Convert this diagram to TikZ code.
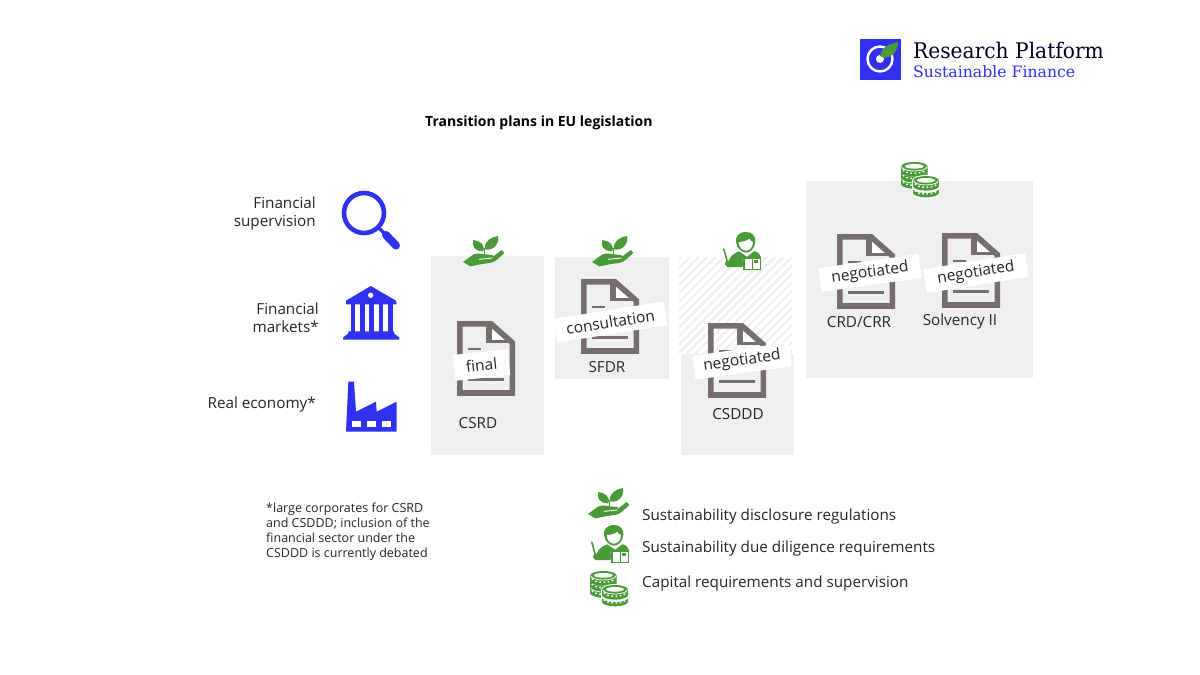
\documentclass[tikz,border=0pt]{standalone}
\usepackage{fontspec}
\setmainfont{Open Sans}
\newfontfamily\logofont{DejaVu Serif}
\definecolor{ublue}{HTML}{3030F0}
\definecolor{ugreen}{HTML}{4B9A3A}
\definecolor{ugrey}{HTML}{756E6D}
\definecolor{ubox}{HTML}{EEF0EF}
\definecolor{uhatch}{HTML}{EFF1F0}
\definecolor{utext}{HTML}{262626}
\tikzset{
  x=1pt,y=-1pt,
  panel/.style={fill=ubox,draw=none},
  lab/.style={text=utext,font=\fontsize{15.25}{18}\selectfont,inner sep=0pt},
  tag/.style={fill=white,text=utext,font=\fontsize{15.5}{18}\selectfont,inner sep=0pt,minimum height=24pt,align=center},
  rlab/.style={lab,anchor=east,align=right},
  doclab/.style={lab,anchor=center},
  leglab/.style={lab,anchor=west},
  doc/.pic={
    \begin{scope}[scale=1/3]
    \fill[white] (105,25) -- (105,58) -- (143,58) -- cycle;
    \fill[ugrey] (88,0) rectangle (105,65);
    \fill[ugrey] (88,58) rectangle (170,65);
    \draw[ugrey,line width=5.6pt,miter limit=4] (8.5,8.5) -- (102,8.5) -- (166,65) -- (166,216) -- (8.5,216) -- cycle;
    \fill[ugrey] (33,80) rectangle (72,87);
    \fill[ugrey] (33,130) rectangle (140,137);
    \fill[ugrey] (33,172) rectangle (140,180);
    \end{scope}
  },
  handicon/.pic={
    \begin{scope}[scale=1/3]
    \fill[ugreen] (0,78) -- (30,56) .. controls (45,48) and (60,56) .. (78,56) .. controls (90,56) and (92,60) .. (90,62) -- (116,42) -- (124,50) .. controls (110,64) and (100,76) .. (85,80) -- (52,85) -- (22,91) -- cycle;
    \draw[white,line width=0.9pt] (48,70) -- (88,66);
    \fill[ugreen] (61,46) .. controls (32,46) and (26,28) .. (31,12) .. controls (50,14) and (68,26) .. (61,46) -- cycle;
    \fill[ugreen] (66,40) .. controls (62,15) and (85,3) .. (105,0) .. controls (110,22) and (92,46) .. (66,40) -- cycle;
    \draw[ugreen,line width=1.5pt] (64,58) -- (64,35);
    \end{scope}
  },
  personicon/.pic={
    \begin{scope}[scale=1/3]
    \fill[ugreen] (15,105) .. controls (20,72) and (38,62) .. (52,58) -- (100,58) .. controls (110,62) and (115,68) .. (118,78) -- (62,78) -- (62,105) -- cycle;
    \fill[white] (50,56) -- (75,74) -- (98,56) -- (90,50) -- (58,50) -- cycle;
    \fill[ugreen] (72,0) .. controls (50,0) and (40,14) .. (42,30) .. controls (44,50) and (60,62) .. (72,62) .. controls (84,62) and (98,50) .. (100,30) .. controls (102,14) and (92,0) .. (72,0) -- cycle;
    \fill[white] (50,30) .. controls (64,30) and (76,26) .. (82,20) .. controls (84,26) and (88,28) .. (93,30) .. controls (93,44) and (84,56) .. (72,56) .. controls (60,56) and (50,44) .. (50,30) -- cycle;
    \draw[ugreen,line width=1.6pt] (5,50) -- (17,93);
    \fill[ugreen] (17,95) circle[radius=8];
    \fill[ugreen] (17,88) rectangle (62,100);
    \draw[ugreen,line width=1.5pt,fill=white] (66,78) rectangle (116,112);
    \draw[ugreen,line width=1.2pt] (91,78) -- (91,112);
    \fill[ugreen] (97,85) rectangle (108,92);
    \end{scope}
  },
  coinicon/.pic={
    \begin{scope}[scale=1/3]
    \foreach \cy in {50,30,14}{
      \fill[ugreen] (0,\cy) arc[start angle=180,end angle=360,x radius=40,y radius=14] -- ++(0,16) arc[start angle=0,end angle=180,x radius=40,y radius=14] -- cycle;
      \draw[white,line width=0.8pt] (2,\cy) arc[start angle=180,end angle=0,x radius=38,y radius=13];
      \draw[white,line width=1.5pt,dash pattern=on 1.6pt off 2.6pt] (6,\cy+9) arc[start angle=175,end angle=5,x radius=34,y radius=12];
    }
    \fill[white] (40,13) ellipse[x radius=28,y radius=7];
    \foreach \cy in {76,56}{
      \fill[white] (33,\cy) arc[start angle=180,end angle=360,x radius=42,y radius=17] -- ++(0,20) arc[start angle=0,end angle=180,x radius=42,y radius=17] -- cycle;
      \fill[ugreen] (36,\cy) arc[start angle=180,end angle=360,x radius=39,y radius=14] -- ++(0,16) arc[start angle=0,end angle=180,x radius=39,y radius=14] -- cycle;
      \draw[white,line width=0.8pt] (38,\cy) arc[start angle=180,end angle=0,x radius=37,y radius=13];
      \draw[white,line width=1.5pt,dash pattern=on 1.6pt off 2.6pt] (42,\cy+9) arc[start angle=175,end angle=5,x radius=33,y radius=12];
    }
    \fill[white] (75,55) ellipse[x radius=27,y radius=7];
    \end{scope}
  }
}
\begin{document}
\begin{tikzpicture}
\useasboundingbox (0,0) rectangle (1200,675);
\fill[white] (0,0) rectangle (1200,675);

% logo
\fill[ublue] (860,39) rectangle (901,80);
\draw[white,line width=2.4pt] (880,59) circle[radius=12.5];
\fill[white] (880,59) circle[radius=4];
\fill[ugreen] (880,56) .. controls (882,46) and (890,44) .. (898,42) .. controls (898,50) and (894,57) .. (884,58) -- cycle;
\node[anchor=west,inner sep=0pt,text=black!85!blue,xscale=0.94,transform shape] (logoA) at (913,50) {\logofont\fontsize{21.5}{24}\selectfont Research Platform};
\node[anchor=west,inner sep=0pt,text=ublue] (logoB) at (913,71.5) {\logofont\fontsize{15.7}{18}\selectfont Sustainable Finance};

\node[anchor=west,inner sep=0pt,text=black] (title) at (425,123) {\fontsize{14}{18}\selectfont\bfseries Transition plans in EU legislation};

% left column
\node[rlab] (sup) at (316,214) {Financial\\supervision};
\node[rlab] (mkt) at (319,318) {Financial\\markets*};
\node[rlab] (real) at (316,404.5) {Real economy*};

% magnifier
\draw[ublue,line width=4.6pt] (364,213) circle[radius=20];
\draw[ublue,line width=3.5pt] (379,228) -- (388,237);
\draw[ublue,line width=8pt,line cap=round] (386,235) -- (396,245.5);

% bank
\begin{scope}[shift={(320,170)},scale=1/3]
\fill[ublue] (152,348) -- (228,392) -- (230,403) -- (78,403) -- (78,392) -- cycle;
\fill[white] (152,376) circle[radius=8];
\foreach \cx in {92,120,148,176,204}{\fill[ublue] (\cx,403) rectangle (\cx+14,487);}
\fill[ublue] (85,484) -- (222,484) -- (222,490) -- (238,503) -- (238,509) -- (69,509) -- (69,503) -- (85,490) -- cycle;
% factory
\fill[ublue] (85,635) -- (102,635) -- (108,725) -- (168,695) -- (170,725) -- (230,695) -- (230,785) -- (78,785) -- cycle;
\fill[white] (95,752) rectangle (122,770);
\fill[white] (140,752) rectangle (167,770);
\fill[white] (185,752) rectangle (212,770);
\end{scope}

% panels
\fill[panel] (430.5,256) rectangle (544,454.5);
\fill[panel] (555,257) rectangle (669,379);
\fill[panel] (681,354) rectangle (794,455);
\fill[panel] (806,181) rectangle (1033,378);
\begin{scope}
\clip (679,257) rectangle (792,354);
\foreach \k in {0,...,45}{
  \draw[uhatch,line width=2.4pt] (570+\k*8.5,360) -- (570+\k*8.5+110,250);
}
\end{scope}

% documents
\pic at (457,321) {doc};
\pic at (581,279) {doc};
\pic at (708,323) {doc};
\pic at (837,234) {doc};
\pic at (942,233) {doc};

% status tags
\node[tag,rotate=6,minimum width=55pt,minimum height=26pt] (tfinal) at (481.5,365) {final};
\node[tag,rotate=9,minimum width=111pt] (tcons) at (610.5,322) {consultation};
\node[tag,rotate=8,minimum width=97pt] (tneg1) at (742,361) {negotiated};
\node[tag,rotate=8,minimum width=101pt] (tneg2) at (870,273) {negotiated};
\node[tag,rotate=9,minimum width=103pt] (tneg3) at (976,273) {negotiated};

% document names
\node[doclab] (csrd) at (478,423) {CSRD};
\node[doclab] (sfdr) at (607,367.5) {SFDR};
\node[doclab] (csddd) at (738,414) {CSDDD};
\node[doclab] (crd) at (859,322.5) {CRD/CRR};
\node[doclab] (solv) at (960,321.5) {Solvency II};

% icons over panels
\pic at (463,236) {handicon};
\pic at (592,236) {handicon};
\pic at (722,232) {personicon};
\pic at (901,162) {coinicon};

% legend
\pic at (588,488) {handicon};
\pic at (590,525) {personicon};
\pic at (590,571) {coinicon};
\node[leglab] (lg1) at (642,517) {Sustainability disclosure regulations};
\node[leglab] (lg2) at (642,549) {Sustainability due diligence requirements};
\node[leglab] (lg3) at (642,583.5) {Capital requirements and supervision};

% footnote
\node[anchor=north west,inner sep=0pt,align=left,text=utext,font=\fontsize{12.5}{15}\selectfont] (note) at (266,502.5) {*large corporates for CSRD\\and CSDDD; inclusion of the\\financial sector under the\\CSDDD is currently debated};
\end{tikzpicture}
\end{document}
